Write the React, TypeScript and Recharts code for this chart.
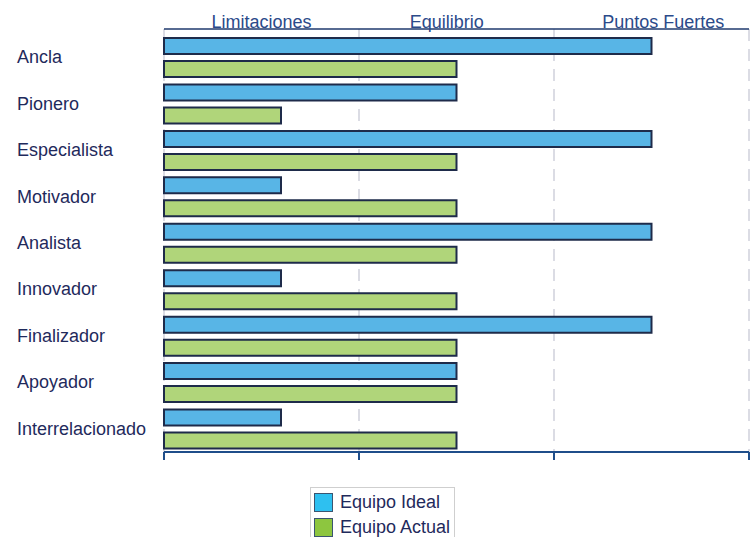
import React from "react";
import {
  BarChart,
  Bar,
  XAxis,
  YAxis,
  CartesianGrid
} from "recharts";

const categories = [
  "Ancla",
  "Pionero",
  "Especialista",
  "Motivador",
  "Analista",
  "Innovador",
  "Finalizador",
  "Apoyador",
  "Interrelacionado"
];
const equipoIdeal = [2.5, 1.5, 2.5, 0.6, 2.5, 0.6, 2.5, 1.5, 0.6];
const equipoActual = [1.5, 0.6, 1.5, 1.5, 1.5, 1.5, 1.5, 1.5, 1.5];

const zoneLabels = ["Limitaciones", "Equilibrio", "Puntos Fuertes"];
const zoneTicks = [0.5, 1.45, 2.56];
const scaleTicks = [0, 1, 2, 3];

const series = [
  { key: "ideal", name: "Equipo Ideal", fill: "#58b5e6", swatch: "#2ec0f0" },
  { key: "actual", name: "Equipo Actual", fill: "#b0d57a", swatch: "#8dc63f" }
];

const data = categories.map((name, i) => ({
  name,
  ideal: equipoIdeal[i],
  actual: equipoActual[i]
}));

const FONT = "'Liberation Sans', Arial, sans-serif";
const TEXT = "#1f2a5c";

function CategoryTick({ y, payload }: any) {
  return (
    <text x={17} y={y} dy={6} textAnchor="start" fontSize={18} fontFamily={FONT} fill={TEXT}>
      {payload.value}
    </text>
  );
}

function ZoneTick({ x, payload }: any) {
  const v = Number(payload.value);
  let idx = 0;
  zoneTicks.forEach((t, i) => {
    if (Math.abs(t - v) < Math.abs(zoneTicks[idx] - v)) idx = i;
  });
  return (
    <text x={x} y={28} textAnchor="middle" fontSize={18} fontFamily={FONT} fill="#2b4a8a">
      {zoneLabels[idx]}
    </text>
  );
}

export default function App() {
  return (
    <div style={{ position: "absolute", left: 0, top: 0, width: 755, height: 537, background: "#fff", overflow: "hidden" }}>
      <BarChart
        width={755}
        height={537}
        data={data}
        layout="vertical"
        margin={{ top: 0, right: 6, bottom: 55, left: 0 }}
        barSize={16}
        barGap={7}
      >
        <CartesianGrid
          xAxisId="bottom"
          horizontal={false}
          stroke="#cfd1dc"
          strokeWidth={1.5}
          strokeDasharray="12 8"
        />
        <XAxis
          xAxisId="top"
          orientation="top"
          type="number"
          domain={[0, 3]}
          allowDataOverflow
          ticks={zoneTicks}
          tick={ZoneTick}
          tickLine={false}
          axisLine={{ stroke: "#1f3a6e", strokeWidth: 1.5 }}
          height={29}
          interval={0}
        />
        <XAxis
          xAxisId="bottom"
          type="number"
          domain={[0, 3]}
          ticks={scaleTicks}
          tickFormatter={() => ""}
          tickSize={8}
          tickLine={{ stroke: "#1f4e8a", strokeWidth: 2 }}
          axisLine={{ stroke: "#1f4e8a", strokeWidth: 2 }}
          height={30}
        />
        <YAxis
          type="category"
          dataKey="name"
          width={164}
          axisLine={false}
          tickLine={false}
          tick={CategoryTick}
          padding={{ top: 5, bottom: 0 }}
          interval={0}
        />
        <YAxis yAxisId="ghost" type="category" dataKey="name" hide />
        {series.map((s) => (
          <Bar
            key={s.key}
            xAxisId="bottom"
            dataKey={s.key}
            name={s.name}
            fill={s.fill}
            stroke="#1e2b4a"
            strokeWidth={2}
            isAnimationActive={false}
          />
        ))}
        {/* keeps the top zone axis populated so its labels render */}
        <Bar
          xAxisId="top"
          yAxisId="ghost"
          dataKey="ideal"
          fill="none"
          stroke="none"
          barSize={0}
          legendType="none"
          isAnimationActive={false}
        />
      </BarChart>
      <div
        style={{
          position: "absolute",
          left: 310,
          top: 487,
          width: 145,
          height: 60,
          border: "1px solid #cfcfcf",
          boxSizing: "border-box",
          fontFamily: FONT,
          fontSize: 18,
          color: TEXT
        }}
      >
        {series.map((s, i) => (
          <div key={s.key} style={{ position: "absolute", left: 3, top: 4 + i * 25, display: "flex", alignItems: "center", whiteSpace: "nowrap" }}>
            <span
              style={{
                display: "inline-block",
                width: 19,
                height: 19,
                background: s.swatch,
                border: "1px solid #3b5570",
                boxSizing: "border-box",
                marginRight: 7
              }}
            />
            <span style={{ lineHeight: "20px" }}>{s.name}</span>
          </div>
        ))}
      </div>
    </div>
  );
}
